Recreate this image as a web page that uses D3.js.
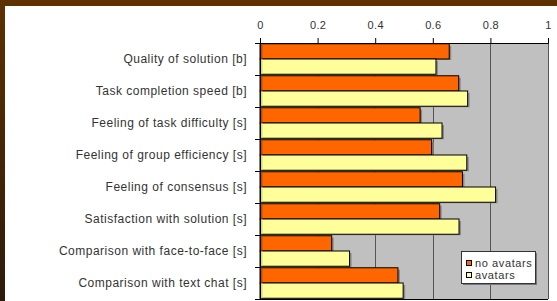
<!DOCTYPE html>
<html><head><meta charset="utf-8">
<script src="https://cdn.jsdelivr.net/npm/d3@7"></script>
<style>
body{margin:0;padding:0;background:#fff;}
svg{display:block;}
text{font-family:"Liberation Sans",Arial,sans-serif;}
</style></head>
<body>
<svg id="c" width="557" height="301"></svg>
<script>
const categories = [
  "Quality of solution [b]",
  "Task completion speed [b]",
  "Feeling of task difficulty [s]",
  "Feeling of group efficiency [s]",
  "Feeling of consensus [s]",
  "Satisfaction with solution [s]",
  "Comparison with face-to-face [s]",
  "Comparison with text chat [s]"
];
const noAvatars = [0.657, 0.690, 0.556, 0.596, 0.703, 0.624, 0.249, 0.479];
const avatars   = [0.611, 0.721, 0.632, 0.718, 0.818, 0.691, 0.311, 0.497];
const seriesNames = ["no avatars", "avatars"];
const tickValues = [0, 0.2, 0.4, 0.6, 0.8, 1];
const tickLabels = ["0", "0.2", "0.4", "0.6", "0.8", "1"];

(function(){
const svg = d3.select("#c");
const W = 557, H = 301;
const pL = 260, pR = 548, pT = 43, pB = 299;

// frame
svg.append("rect").attr("x",0).attr("y",0).attr("width",W).attr("height",H).attr("fill","#fff");
const defs = svg.append("defs");
const lg = defs.append("linearGradient").attr("id","lb").attr("x1",0).attr("y1",0).attr("x2",0).attr("y2",1);
lg.append("stop").attr("offset","0%").attr("stop-color","#5e3100");
lg.append("stop").attr("offset","100%").attr("stop-color","#2e1a0c");
svg.append("rect").attr("x",0).attr("y",0).attr("width",W).attr("height",6).attr("fill","#5e3100");
svg.append("rect").attr("x",0).attr("y",0).attr("width",5).attr("height",H).attr("fill","url(#lb)");

const x = d3.scaleLinear().domain([0,1]).range([pL,pR]);
const y = d3.scaleBand().domain(categories).range([pT,pB]).paddingInner(0).paddingOuter(0);
const sub = d3.scaleBand().domain(seriesNames).range([0,y.bandwidth()]).paddingInner(0).paddingOuter(0.05);
const colors = {"no avatars":"#ff6600","avatars":"#ffff99"};
const darkEdge = {"no avatars":"#c04800","avatars":"#d8d870"};

// plot area
svg.append("rect").attr("x",pL).attr("y",pT).attr("width",pR-pL).attr("height",pB-pT).attr("fill","#c0c0c0");

// gridlines
svg.append("g").selectAll("line").data(tickValues.slice(1)).join("line")
  .attr("x1",d=>Math.round(x(d))+0.5).attr("x2",d=>Math.round(x(d))+0.5)
  .attr("y1",pT).attr("y2",pB).attr("stroke","#555").attr("stroke-width",1);

// bars
const data = [];
categories.forEach((c,i)=>{
  data.push({c, s:"no avatars", v:noAvatars[i]});
  data.push({c, s:"avatars", v:avatars[i]});
});
const bars = svg.append("g");
bars.selectAll("rect.sh").data(data).join("rect").attr("class","sh")
  .attr("x",x(0)+2).attr("y",d=>y(d.c)+sub(d.s)+2)
  .attr("width",d=>x(d.v)-x(0)).attr("height",sub.bandwidth()-1)
  .attr("fill","#8a8a8a");
bars.selectAll("rect.b").data(data).join("rect").attr("class","b")
  .attr("x",x(0)).attr("y",d=>y(d.c)+sub(d.s))
  .attr("width",d=>x(d.v)-x(0)).attr("height",sub.bandwidth())
  .attr("fill",d=>colors[d.s]).attr("stroke","#000").attr("stroke-width",1);
bars.selectAll("rect.e").data(data).join("rect").attr("class","e")
  .attr("x",x(0)+0.5).attr("y",d=>y(d.c)+sub(d.s)+0.5)
  .attr("width",2).attr("height",sub.bandwidth()-1)
  .attr("fill",d=>darkEdge[d.s]);

// top axis
const xAxis = d3.axisTop(x).tickValues(tickValues).tickFormat((d,i)=>tickLabels[i]).tickSize(5).tickPadding(9);
const gx = svg.append("g").attr("transform",`translate(0,${pT})`).call(xAxis);
gx.select(".domain").attr("stroke","#000");
gx.selectAll(".tick line").attr("stroke","#000");
gx.selectAll(".tick text").attr("font-size",11).attr("fill","#333").attr("letter-spacing","0.3px").attr("font-family","Liberation Sans, Arial, sans-serif");

// left axis
const gy = svg.append("g").attr("transform",`translate(${pL},0)`);
gy.append("line").attr("x1",0.5).attr("x2",0.5).attr("y1",pT).attr("y2",pB).attr("stroke","#000");
const bounds = categories.map(c=>y(c)).concat([pB]);
gy.selectAll("line.t").data(bounds).join("line").attr("class","t")
  .attr("x1",-5).attr("x2",0).attr("y1",d=>Math.round(d)+0.5).attr("y2",d=>Math.round(d)+0.5).attr("stroke","#000");
gy.selectAll("text").data(categories).join("text")
  .attr("x",-13).attr("y",d=>y(d)+y.bandwidth()/2).attr("dy","0.35em")
  .attr("text-anchor","end").attr("font-size",12).attr("letter-spacing","0.5px")
  .attr("fill","#333").text(d=>d);
svg.append("line").attr("x1",pL).attr("x2",pR).attr("y1",pB+0.5).attr("y2",pB+0.5).attr("stroke","#000");

// legend
const lgx = 461, lgy = 251, lgw = 74, lgh = 32;
svg.append("rect").attr("x",lgx+2).attr("y",lgy+2).attr("width",lgw).attr("height",lgh).attr("fill","#777");
svg.append("rect").attr("x",lgx+0.5).attr("y",lgy+0.5).attr("width",lgw).attr("height",lgh).attr("fill","#fff").attr("stroke","#333");
const le = svg.append("g").selectAll("g").data(seriesNames).join("g")
  .attr("transform",(d,i)=>`translate(${lgx+5},${lgy+9+i*12})`);
le.append("rect").attr("x",0.5).attr("y",0.5).attr("width",5).attr("height",5).attr("fill",d=>colors[d]).attr("stroke","#000");
le.append("text").attr("x",9).attr("y",3).attr("dy","0.35em").attr("font-size",11).attr("letter-spacing","0.6px").attr("fill","#333").text(d=>d);
})();
</script>
</body></html>
